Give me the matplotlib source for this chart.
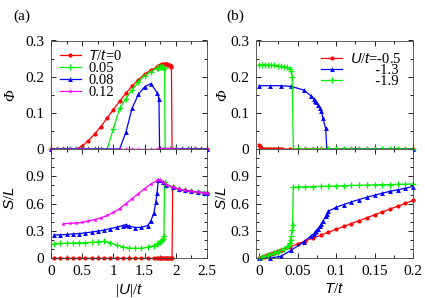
import matplotlib
matplotlib.use("Agg")
import matplotlib.pyplot as plt
from matplotlib.ticker import MultipleLocator, FuncFormatter

plt.rcParams['font.family'] = 'serif'
plt.rcParams['font.serif'] = ['Liberation Serif', 'DejaVu Serif']
plt.rcParams['mathtext.fontset'] = 'custom'
plt.rcParams['mathtext.it'] = 'Liberation Sans:italic'
plt.rcParams['mathtext.rm'] = 'Liberation Serif'
plt.rcParams['font.size'] = 11

RED, GREEN, BLUE, MAG = '#ff0000', '#00ee00', '#0000ff', '#ff00ff'

# ---------------- (a) vs |U|/t ----------------
# T/t = 0
ua_phi_0 = [0, 0.1, 0.2, 0.3, 0.4, 0.5, 0.6, 0.7, 0.8, 0.9, 1.0, 1.1, 1.2, 1.3, 1.4, 1.5, 1.6, 1.7,
            1.72, 1.74, 1.76, 1.78, 1.80, 1.82, 1.84, 1.86, 1.88, 1.90, 1.92, 1.93, 1.94,
            2.0, 2.1, 2.2, 2.3, 2.4, 2.5]
phi_0 = [0, 0, 0, 0, 0, 0.008, 0.023, 0.042, 0.062, 0.086, 0.109, 0.132, 0.154, 0.174, 0.192, 0.207, 0.218, 0.227,
         0.229, 0.231, 0.233, 0.234, 0.235, 0.235, 0.235, 0.234, 0.233, 0.232, 0.230, 0.228, 0,
         0, 0, 0, 0, 0, 0]
ua_s_0 = [0.05, 0.15, 0.25, 0.35, 0.45, 0.55, 0.65, 0.75, 0.85, 0.95, 1.05, 1.15, 1.25, 1.35, 1.45, 1.55, 1.65,
          1.70, 1.72, 1.74, 1.76, 1.78, 1.80, 1.82, 1.84, 1.86, 1.88, 1.90, 1.92, 1.94,
          1.95, 2.05, 2.15, 2.25, 2.35, 2.45, 2.5]
s_0 = [0] * 30 + [0.78, 0.76, 0.745, 0.735, 0.727, 0.721, 0.718]

# T/t = 0.05
ua_phi_05 = [0, 0.1, 0.2, 0.3, 0.4, 0.5, 0.6, 0.7, 0.8, 0.9, 1.0, 1.1, 1.2, 1.3, 1.4, 1.5, 1.6, 1.7,
             1.72, 1.74, 1.76, 1.78, 1.80, 1.82, 1.83, 1.9, 2.0, 2.1, 2.2, 2.3, 2.4, 2.5]
phi_05 = [0, 0, 0, 0, 0, 0, 0, 0, 0, 0, 0.056, 0.113, 0.139, 0.164, 0.185, 0.203, 0.214, 0.223,
          0.225, 0.226, 0.227, 0.227, 0.226, 0.224, 0, 0, 0, 0, 0, 0, 0, 0]
ua_s_05 = [0.05, 0.15, 0.25, 0.35, 0.45, 0.55, 0.65, 0.75, 0.85, 0.95, 1.05, 1.15, 1.25, 1.35, 1.45, 1.55, 1.65,
           1.70, 1.72, 1.74, 1.76, 1.78, 1.80, 1.81, 1.82, 1.85, 1.95, 2.05, 2.15, 2.25, 2.35, 2.45, 2.5]
s_05 = [0.16, 0.163, 0.165, 0.167, 0.17, 0.172, 0.175, 0.18, 0.187, 0.172, 0.145, 0.125, 0.112, 0.109, 0.11, 0.122, 0.14,
        0.155, 0.165, 0.175, 0.185, 0.2, 0.215, 0.24, 0.84, 0.81, 0.78, 0.76, 0.745, 0.735, 0.727, 0.721, 0.718]

# T/t = 0.08
ua_phi_08 = [0, 0.1, 0.2, 0.3, 0.4, 0.5, 0.6, 0.7, 0.8, 0.9, 1.0, 1.1, 1.2, 1.3, 1.4, 1.5, 1.6, 1.7,
             1.73, 1.74, 1.8, 1.9, 2.0, 2.1, 2.2, 2.3, 2.4, 2.5]
phi_08 = [0, 0, 0, 0, 0, 0, 0, 0, 0, 0, 0, 0, 0.046, 0.113, 0.151, 0.172, 0.181, 0.156,
          0.139, 0, 0, 0, 0, 0, 0, 0, 0, 0]
ua_s_08 = [0.05, 0.15, 0.25, 0.35, 0.45, 0.55, 0.65, 0.75, 0.85, 0.95, 1.05, 1.15, 1.2, 1.25, 1.35, 1.45, 1.55,
           1.6, 1.65, 1.68, 1.7, 1.72, 1.75, 1.8, 1.85, 1.95, 2.05, 2.15, 2.25, 2.35, 2.45, 2.5]
s_08 = [0.255, 0.258, 0.262, 0.267, 0.272, 0.279, 0.288, 0.298, 0.31, 0.325, 0.342, 0.36, 0.37, 0.355, 0.338, 0.34, 0.36,
        0.41, 0.5, 0.62, 0.72, 0.865, 0.855, 0.835, 0.81, 0.78, 0.76, 0.745, 0.735, 0.727, 0.721, 0.718]

# T/t = 0.12
ua_phi_12 = [0, 0.1, 0.2, 0.3, 0.4, 0.5, 0.6, 0.7, 0.8, 0.9, 1.0, 1.1, 1.2, 1.3, 1.4, 1.5, 1.6, 1.7,
             1.72, 1.74, 1.76, 1.78, 1.80, 1.82, 1.84, 1.86, 1.88, 1.90, 1.92, 1.94,
             2.0, 2.1, 2.2, 2.3, 2.4, 2.5]
phi_12 = [0] * 36
ua_s_12 = [0.2, 0.3, 0.4, 0.5, 0.6, 0.7, 0.8, 0.9, 1.0, 1.1, 1.2, 1.3, 1.4, 1.5, 1.6, 1.7, 1.75,
           1.8, 1.85, 1.95, 2.05, 2.15, 2.25, 2.35, 2.45, 2.5]
s_12 = [0.38, 0.383, 0.388, 0.394, 0.41, 0.425, 0.445, 0.47, 0.505, 0.545, 0.6, 0.655, 0.71, 0.765, 0.815, 0.855, 0.865,
        0.835, 0.81, 0.78, 0.76, 0.745, 0.735, 0.727, 0.721, 0.718]

# ---------------- (b) vs T/t ----------------
# U/t = -0.5
tb_m05 = [0, 0.001, 0.002, 0.004, 0.006, 0.008, 0.01, 0.012, 0.014, 0.016, 0.018, 0.02, 0.022, 0.024, 0.026,
          0.028, 0.03, 0.04, 0.05, 0.06, 0.07, 0.08, 0.09, 0.1, 0.11, 0.12, 0.13, 0.14, 0.15, 0.16, 0.17,
          0.18, 0.19, 0.2]
phi_m05 = [0.01, 0.008, 0.002] + [0] * 31
s_m05 = [0, 0.003, 0.006, 0.013, 0.019, 0.025, 0.031, 0.037, 0.043, 0.05, 0.056, 0.062, 0.068, 0.075, 0.081,
         0.087, 0.093, 0.125, 0.158, 0.19, 0.222, 0.254, 0.286, 0.318, 0.35, 0.381, 0.413, 0.445, 0.477, 0.508,
         0.54, 0.572, 0.603, 0.635]

# U/t = -1.3
tb_m13 = [0, 0.014, 0.028, 0.042, 0.058, 0.068, 0.071, 0.073, 0.0745, 0.0765, 0.0787, 0.081, 0.083, 0.0865,
          0.088, 0.09, 0.1, 0.11, 0.12, 0.13, 0.14, 0.15, 0.16, 0.17, 0.18, 0.19, 0.2]
phi_m13 = [0.175, 0.175, 0.175, 0.173, 0.163, 0.146, 0.139, 0.134, 0.13, 0.123, 0.114, 0.104, 0.085, 0.057,
           0, 0, 0, 0, 0, 0, 0, 0, 0, 0, 0, 0, 0]
s_m13 = [0, 0.005, 0.02, 0.09, 0.18, 0.25, 0.27, 0.29, 0.305, 0.325, 0.35, 0.38, 0.41, 0.46,
         0.49, 0.515, 0.56, 0.59, 0.62, 0.645, 0.67, 0.693, 0.715, 0.735, 0.752, 0.77, 0.788]

# U/t = -1.9
tb_m19_phi = [0, 0.004, 0.008, 0.012, 0.016, 0.02, 0.024, 0.028, 0.032, 0.036, 0.04, 0.042, 0.043, 0.0445,
              0.05, 0.06, 0.07, 0.08, 0.09, 0.1, 0.11, 0.12, 0.13, 0.14, 0.15, 0.16, 0.17, 0.18, 0.19, 0.2]
phi_m19 = [0.233, 0.233, 0.233, 0.232, 0.232, 0.231, 0.23, 0.229, 0.228, 0.226, 0.222, 0.215, 0.2, 0,
           0, 0, 0, 0, 0, 0, 0, 0, 0, 0, 0, 0, 0, 0, 0, 0]
tb_m19_s = [0, 0.004, 0.008, 0.012, 0.016, 0.02, 0.024, 0.028, 0.032, 0.036, 0.038, 0.04, 0.041, 0.042, 0.043,
            0.0435, 0.0445, 0.05, 0.06, 0.07, 0.08, 0.09, 0.1, 0.11, 0.12, 0.13, 0.14, 0.15, 0.16, 0.17,
            0.18, 0.19, 0.2]
s_m19 = [0, 0.012, 0.024, 0.036, 0.048, 0.061, 0.074, 0.088, 0.104, 0.125, 0.14, 0.17, 0.2, 0.25, 0.31,
         0.37, 0.78, 0.782, 0.785, 0.788, 0.79, 0.792, 0.795, 0.797, 0.8, 0.802, 0.804, 0.806, 0.808, 0.81,
         0.812, 0.814, 0.816]

fig = plt.figure(figsize=(4.25, 2.98), dpi=100)
W, H = 425, 298
def box(x0, y0, x1, y1):
    return [x0 / W, 1 - y1 / H, (x1 - x0) / W, (y1 - y0) / H]

ax_a1 = fig.add_axes(box(51, 40.5, 207, 149))
ax_a2 = fig.add_axes(box(51, 149, 207, 258.3))
ax_b1 = fig.add_axes(box(256, 40.5, 413, 149))
ax_b2 = fig.add_axes(box(256, 149, 413, 258.3))

kw = dict(lw=0.9, clip_on=False)
st = {
    'r': dict(color=RED, marker='o', ms=3, mew=0),
    'g': dict(color=GREEN, marker='+', ms=4, mew=0.9),
    'b': dict(color=BLUE, marker='^', ms=3.5, mew=0),
    'm': dict(color=MAG, marker='*', ms=3.5, mew=0),
}

ax_a1.plot(ua_phi_0, phi_0, label=r'$T/t$=0', **st['r'], **kw)
ax_a1.plot(ua_phi_05, phi_05, label='0.05', **st['g'], **kw)
ax_a1.plot(ua_phi_08, phi_08, label='0.08', **st['b'], **kw)
ax_a1.plot(ua_phi_12, phi_12, label='0.12', **st['m'], **kw)

ax_a2.plot(ua_s_0, s_0, **st['r'], **kw)
ax_a2.plot(ua_s_05, s_05, **st['g'], **kw)
ax_a2.plot(ua_s_08, s_08, **st['b'], **kw)
ax_a2.plot(ua_s_12, s_12, **st['m'], **kw)

pad = ' ' * 7   # keeps "-1.3" and "-1.9" right-aligned under "-0.5"
ax_b1.plot(tb_m05, phi_m05, label=r'$U/t$=-0.5', **st['r'], **kw)
ax_b1.plot(tb_m13, phi_m13, label=pad + '-1.3', **st['b'], **kw)
ax_b1.plot(tb_m19_phi, phi_m19, label=pad + '-1.9', **st['g'], **kw)

ax_b2.plot(tb_m05, s_m05, **st['r'], **kw)
ax_b2.plot(tb_m13, s_m13, **st['b'], **kw)
ax_b2.plot(tb_m19_s, s_m19, **st['g'], **kw)

fmt = FuncFormatter(lambda v, p: f'{v:g}')
for ax in (ax_a1, ax_a2):
    ax.set_xlim(0, 2.5)
    ax.xaxis.set_major_locator(MultipleLocator(0.5))
    ax.xaxis.set_minor_locator(MultipleLocator(0.25))
for ax in (ax_b1, ax_b2):
    ax.set_xlim(-0.004, 0.2)
    ax.xaxis.set_major_locator(MultipleLocator(0.05))
    ax.xaxis.set_minor_locator(MultipleLocator(0.025))
for ax in (ax_a1, ax_b1):
    ax.set_ylim(0, 0.3)
    ax.yaxis.set_major_locator(MultipleLocator(0.1))
    ax.yaxis.set_minor_locator(MultipleLocator(0.05))
    ax.tick_params(labelbottom=False)
    ax.set_ylabel('Φ', fontstyle='italic', fontsize=11)
for ax in (ax_a2, ax_b2):
    ax.set_ylim(0, 1.2)
    ax.set_yticks([0, 0.3, 0.6, 0.9])
    ax.yaxis.set_minor_locator(MultipleLocator(0.1))
    ax.set_ylabel(r'$S/L$', fontsize=11)
for ax in (ax_a1, ax_a2, ax_b1, ax_b2):
    ax.tick_params(which='both', direction='in', top=True, right=True, width=0.6, pad=5)
    ax.tick_params(which='major', length=3.5)
    ax.tick_params(which='minor', length=2)
    ax.xaxis.set_major_formatter(fmt)
    ax.yaxis.set_major_formatter(fmt)
    for sp in ax.spines.values():
        sp.set_linewidth(0.6)
        sp.set_color('#444444')

ax_a1.yaxis.set_label_coords(-0.215, 0.5)
ax_a2.yaxis.set_label_coords(-0.215, 0.55)
ax_b1.yaxis.set_label_coords(-0.17, 0.5)
ax_b2.yaxis.set_label_coords(-0.17, 0.55)

ax_a2.set_xlabel(r'$|U|/t$', fontsize=11)
ax_b2.set_xlabel(r'$T/t$', fontsize=11)
ax_a2.xaxis.set_label_coords(0.5, -0.22)
ax_b2.xaxis.set_label_coords(0.5, -0.22)

ax_a1.legend(loc='upper left', frameon=False, fontsize=10.5, handlelength=1.45, handletextpad=0.5,
             labelspacing=-0.08, borderaxespad=0.3, borderpad=0.3)
ax_b1.legend(loc='upper right', frameon=False, fontsize=10.5, handlelength=1.45, handletextpad=0.5,
             labelspacing=-0.15, borderaxespad=0.4)

fig.text(13 / W, 1 - 16 / H, '(a)', va='center', fontsize=11)
fig.text(226 / W, 1 - 16 / H, '(b)', va='center', fontsize=11)

fig.savefig('out.png', dpi=100)
